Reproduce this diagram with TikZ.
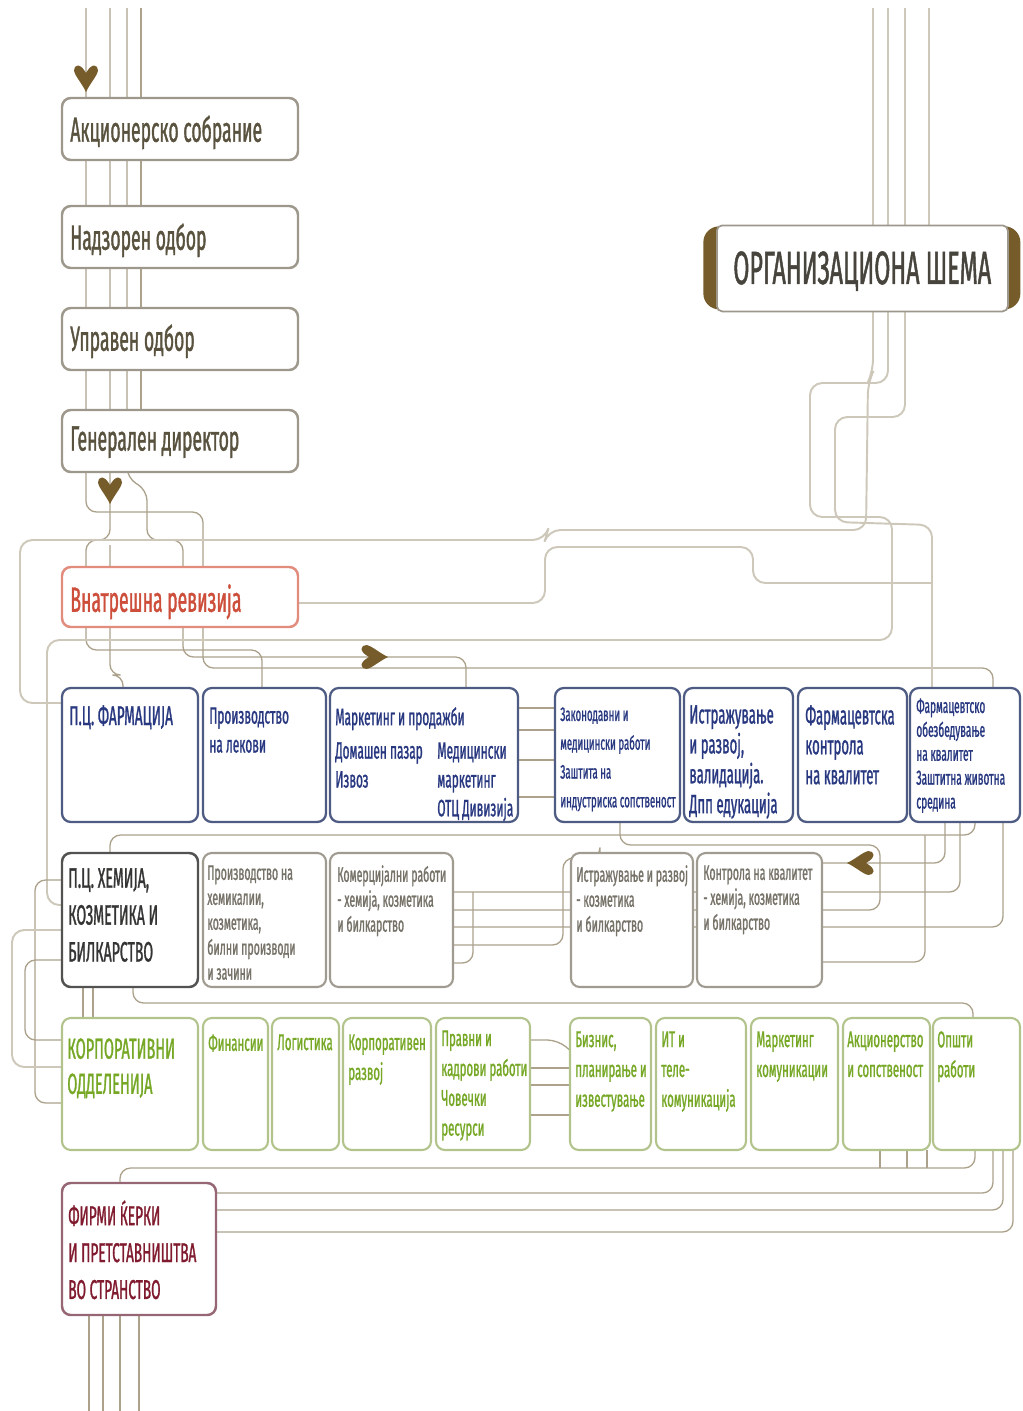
\documentclass[tikz,border=0pt]{standalone}
\usepackage{fontspec}
\setmainfont{Fira Sans}[FakeStretch=0.5, FakeBold=1]
\usetikzlibrary{calc}

\definecolor{lnc}{RGB}{172,162,140}
\definecolor{lnl}{RGB}{205,200,186}
\definecolor{arrc}{RGB}{118,92,42}
\definecolor{topc}{RGB}{88,82,62}
\definecolor{topb}{RGB}{158,152,140}
\definecolor{revc}{RGB}{205,78,58}
\definecolor{revb}{RGB}{226,140,126}
\definecolor{bluc}{RGB}{40,56,128}
\definecolor{blub}{RGB}{78,92,132}
\definecolor{chmc}{RGB}{52,52,50}
\definecolor{chmb}{RGB}{82,82,80}
\definecolor{greyc}{RGB}{118,114,104}
\definecolor{greyb}{RGB}{160,155,145}
\definecolor{grnc}{RGB}{118,168,38}
\definecolor{grnb}{RGB}{178,196,140}
\definecolor{firc}{RGB}{128,26,46}
\definecolor{firb}{RGB}{150,102,116}
\definecolor{titc}{RGB}{70,68,60}

\newcommand\orgbox[6]{%
  \node[#2, minimum width={(#5-#3)*0.02cm}, minimum height={(#6-#4)*0.02cm}] (#1) at (#3,#4) {};}
\newcommand\boxtext[5]{%
  \node[txt, #2] (#1) at (#3,#4) {#5};}

\begin{document}
\begin{tikzpicture}[x=0.02cm, y=-0.02cm,
  ln/.style={draw=lnc, line width=0.75pt, rounded corners=6pt},
  lnlight/.style={draw=lnl, line width=1.1pt, rounded corners=7pt},
  cardbase/.style={anchor=north west, fill=white, rounded corners=5pt, inner sep=0pt, outer sep=0pt, line width=1.2pt},
  topbox/.style={cardbase, draw=topb, line width=1.4pt},
  revbox/.style={cardbase, draw=revb, line width=1.4pt},
  bluebox/.style={cardbase, draw=blub, line width=1.3pt},
  chembox/.style={cardbase, draw=chmb, line width=1.4pt},
  greybox/.style={cardbase, draw=greyb},
  greenbox/.style={cardbase, draw=grnb},
  firmbox/.style={cardbase, draw=firb, line width=1.4pt},
  txt/.style={anchor=north west, inner sep=0pt, align=left},
  ttop/.style={text=topc, font=\fontsize{20}{24}\selectfont},
  trev/.style={text=revc, font=\fontsize{20}{24}\selectfont},
  tbluehead/.style={text=bluc, font=\fontsize{15.5}{16.4}\selectfont},
  tblue/.style={text=bluc, font=\fontsize{13.5}{16.4}\selectfont},
  tbluebig/.style={text=bluc, font=\fontsize{15}{17}\selectfont},
  tbluesmall/.style={text=bluc, font=\fontsize{11}{16.4}\selectfont},
  tbluetiny/.style={text=bluc, font=\fontsize{11.5}{13.6}\selectfont},
  tchem/.style={text=chmc, font=\fontsize{16}{21}\selectfont},
  tgrey/.style={text=greyc, font=\fontsize{12}{14.2}\selectfont},
  tgreenhead/.style={text=grnc, font=\fontsize{16.5}{20}\selectfont},
  tgreen/.style={text=grnc, font=\fontsize{13}{17}\selectfont},
  tfirm/.style={text=firc, font=\fontsize{15.5}{21}\selectfont},
  chev/.pic={\fill[arrc, scale=1.2] (0,11) .. controls (-3,4) and (-9,-2) .. (-10,-7)
     .. controls (-10,-12) and (-5,-14) .. (0,-5)
     .. controls (5,-14) and (10,-12) .. (10,-7)
     .. controls (9,-2) and (3,4) .. (0,11) -- cycle;}
]
\useasboundingbox (0,0) rectangle (1022,1411);
\fill[white] (0,0) rectangle (1022,1411);

% ---------- connector routes ----------
% lines from the board column
\draw[ln] (86,8) -- (86,512) -- (203,512) -- (203,668) -- (993,668) -- (993,688);
\draw[ln] (110,8) -- (110,540) -- (86,540) -- (86,650) -- (262,650) -- (262,688);
\draw[ln] (127,8) -- (127,478) -- (147,490) -- (147,540) -- (183,540) -- (183,657) -- (466,657) -- (466,688);
\draw[ln] (110,545) -- (110,675) -- (123,675) -- (123,688);
\draw[ln] (141,8) -- (141,472);

% long routes from the right column
\draw[lnlight] (873,8) -- (873,372) -- (868,382) -- (866,530) -- (548,530) -- (545,540) -- (20,540) -- (20,703) -- (62,703);
\draw[lnlight] (888,8) -- (888,383) -- (810,383) -- (810,517) -- (892,517) -- (892,640) -- (47,640) -- (47,905) -- (62,905);
\draw[lnlight] (905,8) -- (905,417) -- (835,417) -- (835,522) -- (932,525) -- (932,688);
\draw[lnlight] (929,8) -- (929,225);
\draw[lnlight] (298,603) -- (545,603) -- (545,547) -- (753,547) -- (753,583) -- (932,583);

% links inside the first row
\foreach \yy in {708,730,760,797} \draw[ln] (505,\yy) -- (570,\yy);

% first row to second row
\draw[ln] (110,853) -- (110,835) -- (975,835) -- (975,822);
\draw[ln] (945,822) -- (945,863) -- (822,863);
\draw[ln] (960,822) -- (960,892) -- (453,892);
\draw[ln] (1003,822) -- (1003,927) -- (453,927);
\draw[ln] (620,822) -- (620,845) -- (880,845) -- (880,910) -- (453,910);
\draw[ln] (822,962) -- (925,962) -- (925,835);
\draw[ln] (453,963) -- (473,963) -- (473,892);
\draw[ln] (453,945) -- (563,945) -- (563,858) -- (600,858) -- (600,853);

% second row to third row
\draw[ln] (83,987) -- (83,1018);
\draw[ln] (93,987) -- (93,1018);
\draw[ln] (133,987) -- (133,1003) -- (973,1003) -- (973,1018);

% loops on the left edge
\draw[ln] (62,880) -- (35,880) -- (35,1103) -- (62,1103);
\draw[lnlight] (62,930) -- (12,930) -- (12,1067) -- (62,1067);
\draw[ln] (62,960) -- (25,960) -- (25,1040) -- (62,1040);

% links inside the third row
\draw[ln] (520,1040) -- (558,1040) -- (572,1052);
\foreach \yy in {1068,1085,1115} \draw[ln] (520,\yy) -- (575,\yy);

% third row to the subsidiaries
\draw[ln] (120,1183) -- (120,1168) -- (975,1168) -- (975,1150);
\draw[ln] (216,1193) -- (993,1193) -- (993,1150);
\draw[ln] (216,1210) -- (1003,1210) -- (1003,1150);
\draw[ln] (216,1232) -- (1013,1232) -- (1013,1150);
\foreach \xx in {880,907,927} \draw[ln] (\xx,1150) -- (\xx,1168);
\foreach \xx in {89,103,120,139} \draw[ln] (\xx,1315) -- (\xx,1411);

% ---------- title ----------
\node[anchor=north west, fill=arrc, rounded corners=9pt, minimum width={317*0.02cm}, minimum height={83*0.02cm}, inner sep=0pt] (titlecap) at (703,226) {};
\node[anchor=north west, fill=white, draw=topb, line width=1pt, rounded corners=3pt, minimum width={291*0.02cm}, minimum height={86*0.02cm}, inner sep=0pt] (titlecard) at (716,224.5) {};
\node[txt, text=titc, font=\fontsize{26.5}{30}\selectfont] (titletext) at (733,251) {ОРГАНИЗАЦИОНА ШЕМА};

% ---------- governing bodies ----------
\orgbox{akc}{topbox}{62}{98}{298}{160}
\orgbox{nad}{topbox}{62}{206}{298}{268}
\orgbox{upr}{topbox}{62}{308}{298}{370}
\orgbox{gen}{topbox}{62}{410}{298}{472}
\orgbox{rev}{revbox}{62}{567}{298}{627}
\boxtext{akct}{ttop}{70}{115}{Акционерско собрание}
\boxtext{nadt}{ttop}{70}{223}{Надзорен одбор}
\boxtext{uprt}{ttop}{70}{324}{Управен одбор}
\boxtext{gent}{ttop}{70}{426}{Генерален директор}
\boxtext{revt}{trev}{70}{584}{Внатрешна ревизија}

% ---------- pharmacy row ----------
\orgbox{fa}{bluebox}{62}{688}{198}{822}
\orgbox{fb}{bluebox}{203}{688}{326}{822}
\orgbox{fc}{bluebox}{330}{688}{518}{822}
\orgbox{fd}{bluebox}{555}{688}{680}{822}
\orgbox{fe}{bluebox}{684}{688}{793}{822}
\orgbox{ff}{bluebox}{798}{688}{907}{822}
\orgbox{fg}{bluebox}{910}{688}{1020}{822}
\boxtext{fat}{tbluehead}{69}{705}{П.Ц. ФАРМАЦИЈА}
\boxtext{fbt}{tblue}{209}{707}{Производство\\на лекови}
\boxtext{fct}{tblue}{335}{707}{Маркетинг и продажби}
\boxtext{fct2}{tblue}{335}{742}{Домашен пазар\\Извоз}
\boxtext{fct3}{tblue}{437}{742}{Медицински\\маркетинг\\ОТЦ Дивизија}
\boxtext{fdt}{tbluesmall}{560}{707}{Законодавни и\\медицински работи\\Заштита на\\индустриска сопственост}
\boxtext{fet}{tbluebig}{689}{705}{Истражување\\и развој,\\валидација.\\Дпп едукација}
\boxtext{fft}{tbluebig}{805}{705}{Фармацевтска\\контрола\\на квалитет}
\boxtext{fgt}{tbluetiny}{916}{698}{Фармацевтско\\обезбедување\\на квалитет\\Заштитна животна\\средина}

% ---------- chemistry row ----------
\orgbox{ha}{chembox}{62}{853}{198}{987}
\orgbox{hb}{greybox}{203}{853}{326}{987}
\orgbox{hc}{greybox}{330}{853}{453}{987}
\orgbox{hd}{greybox}{571}{853}{693}{987}
\orgbox{he}{greybox}{697}{853}{822}{987}
\boxtext{hat}{tchem}{68}{868}{П.Ц. ХЕМИЈА,\\КОЗМЕТИКА И\\БИЛКАРСТВО}
\boxtext{hbt}{tgrey}{207}{865}{Производство на\\хемикалии,\\козметика,\\билни производи\\и зачини}
\boxtext{hct}{tgrey}{337}{865}{Комерцијални работи\\- хемија, козметика\\и билкарство}
\boxtext{hdt}{tgrey}{576}{865}{Истражување и развој\\- козметика\\и билкарство}
\boxtext{het}{tgrey}{703}{865}{Контрола на квалитет\\- хемија, козметика\\и билкарство}

% ---------- corporate row ----------
\orgbox{ka}{greenbox}{62}{1018}{198}{1150}
\orgbox{kb}{greenbox}{203}{1018}{268}{1150}
\orgbox{kc}{greenbox}{272}{1018}{339}{1150}
\orgbox{kd}{greenbox}{343}{1018}{431}{1150}
\orgbox{ke}{greenbox}{436}{1018}{530}{1150}
\orgbox{kf}{greenbox}{570}{1018}{651}{1150}
\orgbox{kg}{greenbox}{656}{1018}{746}{1150}
\orgbox{kh}{greenbox}{751}{1018}{838}{1150}
\orgbox{ki}{greenbox}{843}{1018}{930}{1150}
\orgbox{kj}{greenbox}{933}{1018}{1020}{1150}
\boxtext{kat}{tgreenhead}{67}{1038}{КОРПОРАТИВНИ\\ОДДЕЛЕНИЈА}
\boxtext{kbt}{tgreen}{208}{1034}{Финансии}
\boxtext{kct}{tgreen}{277}{1034}{Логистика}
\boxtext{kdt}{tgreen}{348}{1034}{Корпоративен\\развој}
\boxtext{ket}{tgreen}{441}{1030}{Правни и\\кадрови работи\\Човечки\\ресурси}
\boxtext{kft}{tgreen}{575}{1031}{Бизнис,\\планирање и\\известување}
\boxtext{kgt}{tgreen}{661}{1031}{ИТ и\\теле-\\комуникација}
\boxtext{kht}{tgreen}{756}{1031}{Маркетинг\\комуникации}
\boxtext{kit}{tgreen}{847}{1031}{Акционерство\\и сопственост}
\boxtext{kjt}{tgreen}{937}{1031}{Општи\\работи}

% ---------- subsidiaries ----------
\orgbox{fir}{firmbox}{62}{1183}{216}{1315}
\boxtext{firt}{tfirm}{68}{1200}{ФИРМИ ЌЕРКИ\\И ПРЕТСТАВНИШТВА\\ВО СТРАНСТВО}

% ---------- direction marks ----------
\pic at (86,79) {chev};
\pic at (110,491) {chev};
\pic[rotate=90] at (375,657) {chev};
\pic[rotate=-90] at (860,863) {chev};
\end{tikzpicture}
\end{document}
